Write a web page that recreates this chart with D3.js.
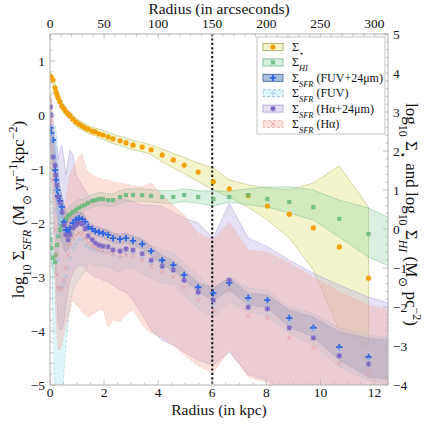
<!DOCTYPE html>
<html><head><meta charset="utf-8">
<script src="https://cdn.jsdelivr.net/npm/d3@7"></script>
<style>body{margin:0;background:#fff}</style>
</head><body><svg id="c" width="426" height="426"></svg>
<script>
// ---------- data ----------
const radiusKpc = [0.01,0.04,0.11,0.19,0.22,0.26,0.30,0.37,0.44,0.52,0.59,0.67,0.74,0.85,0.96,1.07,1.19,1.30,1.41,1.56,1.67,1.81,1.96,2.15,2.33,2.59,2.81,3.07,3.41,3.74,4.15,4.56,4.96,5.48,6.04,6.63,7.33,8.04,8.85,9.74,10.70,11.78,12.78];

// log10 Sigma_star (right axis)
const starVal = [3.90,3.90,3.82,3.62,3.51,3.44,3.36,3.26,3.15,3.08,3.00,2.95,2.90,2.82,2.74,2.69,2.64,2.59,2.56,2.51,2.49,2.44,2.41,2.36,2.31,2.26,2.21,2.15,2.10,2.03,1.90,1.77,1.64,1.46,1.21,1.03,0.85,0.59,0.38,0.03,-0.46,-1.26,null];
const starHi = [4.00,4.00,3.92,3.72,3.61,3.54,3.46,3.36,3.25,3.18,3.10,3.05,3.00,2.92,2.84,2.79,2.74,2.69,2.66,2.61,2.59,2.56,2.53,2.48,2.43,2.38,2.33,2.27,2.22,2.15,2.05,1.94,1.84,1.69,1.56,1.26,1.13,1.05,1.00,1.18,1.62,0.56,null];
const starLo = [3.80,3.80,3.72,3.52,3.41,3.34,3.26,3.16,3.05,2.98,2.90,2.85,2.80,2.72,2.64,2.59,2.54,2.49,2.46,2.41,2.39,2.32,2.29,2.24,2.19,2.14,2.09,2.03,1.98,1.91,1.72,1.57,1.42,1.21,1.00,0.82,0.56,0.23,-0.23,-1.05,-2.59,-3.03,null];

// log10 Sigma_HI (right axis)
const hiVal = [-0.28,-0.49,-0.74,-0.85,-0.67,-0.41,-0.18,-0.03,0.08,0.18,0.26,0.33,0.38,0.44,0.49,0.54,0.59,0.62,0.67,0.72,0.74,0.77,0.77,0.74,0.74,0.82,0.87,0.87,0.87,0.85,0.82,0.82,0.87,0.82,0.77,0.82,0.87,0.77,0.69,0.56,0.26,-0.13,-0.41];
const hiHi = [0.02,-0.19,-0.44,-0.55,-0.37,-0.11,0.12,0.27,0.38,0.40,0.48,0.55,0.60,0.66,0.71,0.76,0.75,0.78,0.83,0.88,0.90,0.93,0.93,0.90,0.90,0.98,1.03,1.03,1.03,1.01,0.98,0.98,1.03,0.98,0.97,0.97,1.03,1.08,1.08,1.00,0.74,0.54,0.21];
const hiLo = [-0.58,-0.79,-1.04,-1.15,-0.97,-0.71,-0.48,-0.33,-0.22,-0.04,0.04,0.11,0.16,0.22,0.27,0.32,0.43,0.46,0.51,0.56,0.58,0.61,0.61,0.58,0.58,0.66,0.71,0.71,0.71,0.69,0.66,0.66,0.71,0.66,0.59,0.69,0.62,0.56,0.41,0.23,-0.21,-0.72,-1.03];

// log10 Sigma_SFR (left axis)
const sfrFUV24 = [-0.24,-0.33,-0.46,-1.02,-1.20,-1.39,-1.50,-1.59,-1.70,-1.98,-2.13,-2.17,-2.09,-2.00,-1.94,-1.91,-1.93,-1.98,-2.07,-2.11,-2.15,-2.17,-2.19,-2.22,-2.28,-2.30,-2.28,-2.33,-2.39,-2.52,-2.69,-2.78,-2.96,-3.19,-3.30,-3.11,-3.39,-3.43,-3.76,-3.94,-4.30,-4.48,-4.57];
const sfrFUV24Hi = [-0.06,-0.13,-0.28,-0.65,-0.83,-1.02,-1.17,-1.35,-1.50,-1.67,-1.80,-1.85,-1.85,-1.83,-1.81,-1.80,-1.81,-1.87,-1.98,-2.02,-2.06,-2.08,-2.10,-2.13,-2.19,-2.21,-2.19,-2.24,-2.30,-2.43,-2.60,-2.69,-2.87,-3.10,-3.20,-3.02,-3.30,-3.33,-3.61,-3.74,-4.02,-4.13,-4.19];
const sfrFUV24Lo = [-0.46,-0.61,-0.93,-1.48,-1.67,-1.85,-1.98,-2.17,-2.35,-2.50,-2.54,-2.50,-2.37,-2.20,-2.09,-2.04,-2.04,-2.09,-2.16,-2.20,-2.24,-2.26,-2.28,-2.31,-2.37,-2.39,-2.37,-2.42,-2.48,-2.61,-2.78,-2.87,-3.05,-3.28,-3.43,-3.24,-3.52,-3.56,-3.93,-4.11,-4.54,-4.85,-4.91];

const sfrFUV = [-0.37,-0.46,-0.74,-1.39,-1.76,-2.22,-2.69,-3.20,-3.19,-3.11,-3.00,-2.83,-2.65,-2.46,-2.39,-2.31,-2.31,-2.41,-2.46,-2.50,-2.50,-2.50,-2.52,-2.54,-2.59,-2.63,-2.56,-2.56,-2.65,-2.74,-2.83,-2.87,-3.06,-3.30,-3.52,-3.24,-3.46,-3.52,-3.83,-3.98,-4.35,-4.54,-4.63];
const sfrFUVHi = [-0.09,-0.19,-0.19,-0.19,-0.28,-0.46,-0.83,-1.39,-1.85,-2.13,-2.28,-2.24,-2.17,-2.09,-2.04,-1.98,-1.98,-2.04,-2.13,-2.17,-2.17,-2.17,-2.19,-2.21,-2.26,-2.30,-2.23,-2.23,-2.32,-2.41,-2.50,-2.54,-2.73,-2.97,-3.24,-2.98,-3.20,-3.24,-3.56,-3.67,-3.94,-4.07,-4.13];
const sfrFUVLo = [-0.83,-1.57,-3.98,-5.28,-5.65,-5.65,-5.65,-5.65,-5.28,-4.72,-4.26,-3.89,-3.52,-3.24,-3.15,-3.06,-2.96,-2.91,-2.74,-2.78,-2.78,-2.78,-2.80,-2.82,-2.87,-2.91,-2.84,-2.84,-2.93,-3.02,-3.11,-3.15,-3.34,-3.58,-3.76,-3.46,-3.65,-3.72,-4.04,-4.26,-4.67,-4.91,-4.98];

const sfrHa24 = [0.15,0.00,-0.78,-0.93,-1.11,-1.30,-1.52,-1.63,-1.80,-2.04,-2.22,-2.31,-2.22,-2.09,-2.04,-2.00,-2.02,-2.11,-2.24,-2.31,-2.37,-2.41,-2.43,-2.44,-2.50,-2.52,-2.48,-2.50,-2.57,-2.69,-2.80,-2.87,-3.06,-3.28,-3.43,-3.06,-3.56,-3.59,-3.94,-4.13,-4.46,-4.61,-4.72];
const sfrHa24Hi = [0.37,0.28,-0.09,-0.46,-0.56,-0.65,-0.83,-0.65,-0.56,-0.83,-1.11,-0.83,-0.65,-0.74,-1.11,-1.20,-1.30,-1.39,-1.48,-1.57,-1.57,-1.57,-1.57,-1.57,-1.57,-1.57,-1.57,-1.61,-1.67,-1.67,-1.69,-1.80,-1.91,-2.00,-2.28,-1.63,-2.28,-2.44,-2.69,-2.93,-3.15,-3.37,-3.52];
const sfrHa24Lo = [-0.28,-0.46,-1.39,-2.31,-2.87,-3.43,-3.80,-3.98,-3.98,-3.80,-3.52,-3.24,-3.06,-2.91,-2.83,-2.78,-2.78,-2.83,-2.91,-2.96,-3.00,-3.02,-3.06,-3.09,-3.15,-3.24,-3.28,-3.43,-3.70,-3.98,-4.17,-4.26,-4.39,-4.54,-4.63,-4.39,-4.81,-4.91,-5.19,-5.37,-5.65,-5.83,-5.93];

const sfrHa = [0.28,-0.09,-1.20,-2.13,-2.59,-2.96,-3.19,-3.24,-3.20,-3.06,-2.83,-2.59,-2.41,-2.28,-2.22,-2.19,-2.19,-2.28,-2.37,-2.43,-2.46,-2.50,-2.52,-2.54,-2.57,-2.61,-2.59,-2.61,-2.69,-2.80,-2.91,-3.00,-3.19,-3.43,-3.61,-3.24,-3.72,-3.76,-4.13,-4.31,-4.61,-4.78,-4.87];
const sfrHaHi = [0.37,0.28,-0.46,-1.20,-1.57,-1.85,-2.04,-2.13,-2.04,-1.85,-1.57,-1.30,-1.11,-0.98,-0.87,-0.78,-0.70,-0.93,-1.06,-1.11,-1.13,-1.17,-1.20,-1.20,-1.24,-1.26,-1.28,-1.31,-1.33,-1.26,-1.48,-1.67,-1.85,-2.19,-2.31,-1.98,-2.50,-2.54,-2.74,-3.00,-3.28,-3.52,-3.65];
const sfrHaLo = [-0.46,-0.83,-2.13,-3.24,-3.80,-4.17,-4.35,-4.35,-4.26,-4.07,-3.89,-3.76,-3.61,-3.43,-3.52,-3.57,-3.65,-3.70,-3.74,-3.70,-3.67,-3.61,-3.61,-3.93,-3.80,-3.83,-3.70,-3.61,-3.89,-4.04,-4.13,-4.26,-4.44,-4.65,-4.78,-4.35,-4.85,-4.96,-5.28,-5.46,-5.74,-5.93,-6.02];

const xTicksKpc = [0,2,4,6,8,10,12];
const xTicksArcsec = [0,50,100,150,200,250,300];
const yTicksLeft = [-5,-4,-3,-2,-1,0,1];
const yTicksRight = [-4,-3,-2,-1,0,1,2,3,4,5];
const markerLine = 6; // kpc

// ---------- layout ----------
const FONT = "'Liberation Serif'";
const svg = d3.select('#c').style('font-family', FONT);
const m = {l:50, r:388, t:34, b:385};
const x = d3.scaleLinear().domain([0,12.5]).range([m.l,m.r]);
const xTop = d3.scaleLinear().domain([0,312.5]).range([m.l,m.r]);
const yL = d3.scaleLinear().domain([-5,1.5]).range([m.b,m.t]);
const yR = d3.scaleLinear().domain([-4,5]).range([m.b,m.t]);

const series = [
  {name:[["Σ"],["⋆","sub"]], y:yR, val:starVal, hi:starHi, lo:starLo, fill:'#e2e27a', fo:0.38, stroke:'#a4a450', dash:null, mk:'circle', mc:'#f2a200'},
  {name:[["Σ"],["HI","subi"]], y:yR, val:hiVal, hi:hiHi, lo:hiLo, fill:'#92d6aa', fo:0.34, stroke:'#6ab684', dash:null, mk:'square', mc:'#66b97a'},
  {name:[["Σ"],["SFR","subi"],[" (FUV+24μm)"]], y:yL, val:sfrFUV24, hi:sfrFUV24Hi, lo:sfrFUV24Lo, fill:'#4676b4', fo:0.45, stroke:'#36609a', dash:null, mk:'plusBold', mc:'#2f66e0'},
  {name:[["Σ"],["SFR","subi"],[" (FUV)"]], y:yL, val:sfrFUV, hi:sfrFUVHi, lo:sfrFUVLo, fill:'#9ae4ee', fo:0.35, stroke:'#86b6c4', dash:'3,2', mk:'plus', mc:'#a8c4e0'},
  {name:[["Σ"],["SFR","subi"],[" (Hα+24μm)"]], y:yL, val:sfrHa24, hi:sfrHa24Hi, lo:sfrHa24Lo, fill:'#bba8e4', fo:0.36, stroke:'#a898d0', dash:null, mk:'aster', mc:'#7c68c4'},
  {name:[["Σ"],["SFR","subi"],[" (Hα)"]], y:yL, val:sfrHa, hi:sfrHaHi, lo:sfrHaLo, fill:'#f6a898', fo:0.36, stroke:'#eab0a6', dash:'3,2', mk:'cross', mc:'#e49a9a'}
];

function markerPath(type){
  if(type==='plusBold') return `M-3.2,0H3.2M0,-3.2V3.2`;
  if(type==='plus') return `M-2.6,0H2.6M0,-2.6V2.6`;
  if(type==='cross') return `M-2.3,-2.3L2.3,2.3M-2.3,2.3L2.3,-2.3`;
  if(type==='aster') return `M-2.8,0H2.8M0,-2.8V2.8M-2.1,-2.1L2.1,2.1M-2.1,2.1L2.1,-2.1`;
  return '';
}
function drawMarker(g, s, cx, cy){
  if(s.mk==='circle') g.append('circle').attr('cx',cx).attr('cy',cy).attr('r',2.6).attr('fill',s.mc);
  else if(s.mk==='square') g.append('rect').attr('x',cx-2.1).attr('y',cy-2.1).attr('width',4.2).attr('height',4.2).attr('fill',s.mc).attr('fill-opacity',0.85);
  else {
    const w = s.mk==='plusBold'?1.8:(s.mk==='aster'?1.1:0.8);
    g.append('path').attr('d',markerPath(s.mk)).attr('transform',`translate(${cx},${cy})`)
      .attr('fill','none').attr('stroke',s.mc).attr('stroke-width',w);
  }
}

svg.append('defs').append('clipPath').attr('id','clip').append('rect')
  .attr('x',m.l).attr('y',m.t).attr('width',m.r-m.l).attr('height',m.b-m.t);
const plot = svg.append('g').attr('clip-path','url(#clip)');

// bands
series.forEach(s=>{
  const rows = radiusKpc.map((r,i)=>({r, v:s.val[i], hi:s.hi[i], lo:s.lo[i]}));
  const area = d3.area().defined(d=>d.hi!=null && d.lo!=null)
    .x(d=>x(d.r)).y0(d=>s.y(d.lo)).y1(d=>s.y(d.hi));
  plot.append('path').datum(rows).attr('d',area)
    .attr('fill',s.fill).attr('fill-opacity',s.fo)
    .attr('stroke',s.stroke).attr('stroke-opacity',0.6).attr('stroke-width',0.7)
    .attr('stroke-dasharray',s.dash);
});

// dotted vertical line
plot.append('line').attr('x1',x(markerLine)).attr('x2',x(markerLine)).attr('y1',m.t).attr('y2',m.b)
  .attr('stroke','#111').attr('stroke-width',2).attr('stroke-dasharray','2.2,2.2');

// markers
series.forEach(s=>{
  const g = plot.append('g');
  radiusKpc.forEach((r,i)=>{
    if(s.val[i]==null) return;
    drawMarker(g, s, x(r), s.y(s.val[i]));
  });
});

// frame & ticks
const axisCol = '#b0b0b0';
svg.append('rect').attr('x',m.l).attr('y',m.t).attr('width',m.r-m.l).attr('height',m.b-m.t)
  .attr('fill','none').attr('stroke',axisCol).attr('stroke-width',1);
const tg = svg.append('g').attr('stroke',axisCol).attr('stroke-width',0.8);
d3.range(0,12.51,0.5).forEach(v=>{ tg.append('line').attr('x1',x(v)).attr('x2',x(v)).attr('y1',m.b).attr('y2',m.b-(v%2===0?5:2.5)); });
d3.range(0,312.6,10).forEach(v=>{ tg.append('line').attr('x1',xTop(v)).attr('x2',xTop(v)).attr('y1',m.t).attr('y2',m.t+(v%50===0?5:2.5)); });
d3.range(-5,1.51,0.2).forEach(v=>{ const maj=Math.abs(v-Math.round(v))<1e-6; tg.append('line').attr('x1',m.l).attr('x2',m.l+(maj?5:2.5)).attr('y1',yL(v)).attr('y2',yL(v)); });
d3.range(-4,5.01,0.2).forEach(v=>{ const maj=Math.abs(v-Math.round(v))<1e-6; tg.append('line').attr('x1',m.r).attr('x2',m.r-(maj?5:2.5)).attr('y1',yR(v)).attr('y2',yR(v)); });

const fmt = d3.format('d');
const lab = svg.append('g').attr('fill','#111').attr('font-size',13.5);
xTicksKpc.forEach(v=>lab.append('text').attr('x',x(v)).attr('y',397).attr('text-anchor','middle').text(fmt(v)));
xTicksArcsec.forEach(v=>lab.append('text').attr('x',xTop(v)).attr('y',28).attr('text-anchor','middle').text(fmt(v)));
yTicksLeft.forEach(v=>lab.append('text').attr('x',45).attr('y',yL(v)+4.5).attr('text-anchor','end').text(fmt(v)));
yTicksRight.forEach(v=>lab.append('text').attr('x',393).attr('y',yR(v)+4.5).attr('text-anchor','start').text(fmt(v)));

function rich(sel, parts, fs){
  parts.forEach(p=>{
    const t=p[0], st=p[1];
    const ts = sel.append('tspan').text(t);
    if(st==='sub'||st==='subi') ts.attr('baseline-shift','sub').attr('font-size',fs*0.7);
    if(st==='sup') ts.attr('baseline-shift','super').attr('font-size',fs*0.7);
    if(st==='subi') ts.attr('font-style','italic');
  });
}

svg.append('text').attr('x',(m.l+m.r)/2).attr('y',14).attr('text-anchor','middle').attr('font-size',15.5).attr('fill','#111').text('Radius (in arcseconds)');
svg.append('text').attr('x',(m.l+m.r)/2).attr('y',415).attr('text-anchor','middle').attr('font-size',15.5).attr('fill','#111').text('Radius (in kpc)');

const lfs=17;
const leftLab = svg.append('text').attr('transform',`translate(24,${(m.t+m.b)/2}) rotate(-90)`)
  .attr('text-anchor','middle').attr('font-size',lfs).attr('fill','#111');
rich(leftLab, [["log"],["10","sub"],[" Σ"],["SFR","subi"],[" (M"],["⊙","sub"],[" yr"],["−1","sup"],["kpc"],["−2","sup"],[")"]], lfs);

const rightLab = svg.append('text').attr('transform',`translate(406,${(m.t+m.b)/2+5}) rotate(90)`)
  .attr('text-anchor','middle').attr('font-size',lfs).attr('fill','#111');
rich(rightLab, [["log"],["10","sub"],[" Σ"],["⋆","sub"],[" and log"],["10","sub"],[" Σ"],["HI","subi"],[" (M"],["⊙","sub"],[" pc"],["−2","sup"],[")"]], lfs);

// legend
const lg = svg.append('g');
lg.append('rect').attr('x',257).attr('y',37).attr('width',128).attr('height',97)
  .attr('fill','#fff').attr('stroke','#c4c4c4').attr('stroke-width',1);
series.forEach((s,i)=>{
  const cy = 47 + i*15.4;
  lg.append('rect').attr('x',263).attr('y',cy-3.5).attr('width',20).attr('height',7)
    .attr('fill',s.fill).attr('fill-opacity',s.fo).attr('stroke',s.stroke).attr('stroke-width',0.8)
    .attr('stroke-dasharray',s.dash);
  drawMarker(lg, s, 273, cy);
  const t = lg.append('text').attr('x',292).attr('y',cy+4).attr('font-size',12).attr('fill','#111');
  rich(t, s.name, 12);
});

svg.selectAll('text').style('font-family', FONT);
</script></body></html>
